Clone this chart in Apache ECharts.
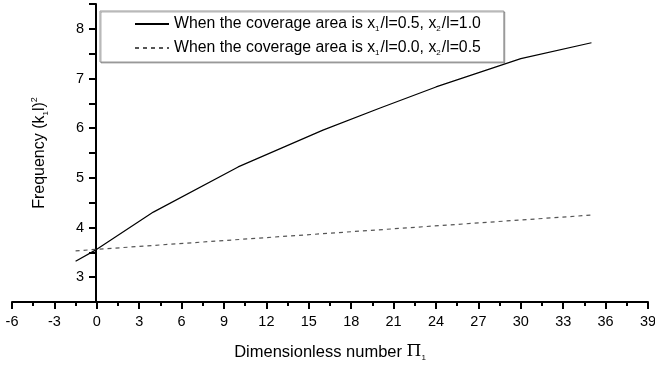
<!DOCTYPE html>
<html>
<head>
<meta charset="utf-8">
<script src="https://cdn.jsdelivr.net/npm/echarts@6/dist/echarts.min.js"></script>
<style>
html, body { margin: 0; padding: 0; background: #fff; }
#main { width: 655px; height: 367px; }
</style>
</head>
<body>
<div id="main"></div>
<script>
var xSolid = [-1.5, 0, 4, 10, 16, 20, 24, 30, 35];
var ySolid = [3.32, 3.56, 4.31, 5.22, 5.96, 6.40, 6.83, 7.40, 7.72];
var xDashed = [-1.5, 0, 35];
var yDashed = [3.53, 3.56, 4.25];
var xTicks = [-6, 39, 3];
var yTicks = [2.5, 8.5, 0.5];

function pairs(xs, ys) {
	var out = [];
	for (var i = 0; i < xs.length; i++) out.push([xs[i], ys[i]]);
	return out;
}

var font = 'Liberation Sans, Arial, sans-serif';
var rich = {
	a: { fontSize: 15.8, fontFamily: font, color: '#000', lineHeight: 18 },
	s: { fontSize: 8, fontFamily: font, color: '#000', lineHeight: 18, verticalAlign: 'bottom', padding: [0, 1, 0, 0] }
};

var myChart = echarts.init(document.getElementById('main'));
var option = {
	animation: false,
	grid: { left: 12, right: 7, top: 4, bottom: 65, containLabel: false, outerBoundsMode: 'none' },
	legend: {
		left: 100,
		top: 11,
		orient: 'vertical',
		itemWidth: 34,
		itemHeight: 10,
		itemGap: 7,
		padding: [5, 23, 5, 34],
		borderColor: '#999',
		borderWidth: 1,
		shadowColor: 'rgba(0,0,0,0.3)',
		shadowOffsetX: 1,
		shadowOffsetY: 1,
		backgroundColor: '#fff',
		itemStyle: { opacity: 0 },
		formatter: function (name) {
			if (name === 's1') return '{a|When the coverage area is x}{s|1}{a|/l=0.5, x}{s|2}{a|/l=1.0}';
			return '{a|When the coverage area is x}{s|1}{a|/l=0.0, x}{s|2}{a|/l=0.5}';
		},
		textStyle: { fontSize: 15.8, rich: rich },
		data: ['s1', 's2']
	},
	xAxis: {
		type: 'value',
		min: xTicks[0],
		max: xTicks[1],
		interval: xTicks[2],
		name: '{a|Dimensionless number }{p|Π}{s|1}',
		nameLocation: 'middle',
		nameGap: 40,
		nameTextStyle: {
			rich: {
				a: { fontSize: 16.5, fontFamily: font, color: '#000', lineHeight: 20 },
				p: { fontSize: 17, fontFamily: 'DejaVu Serif, serif', color: '#000', lineHeight: 20 },
				s: { fontSize: 8, fontFamily: font, color: '#000', lineHeight: 20, verticalAlign: 'bottom' }
			}
		},
		axisLine: { onZero: false, lineStyle: { color: '#000', width: 2 } },
		axisTick: { inside: false, length: 7, lineStyle: { color: '#000', width: 2 } },
		minorTick: { show: true, splitNumber: 2, length: 4, lineStyle: { color: '#000', width: 2 } },
		axisLabel: { color: '#000', fontSize: 14.5, fontFamily: font, margin: 12, showMinLabel: true, showMaxLabel: true },
		splitLine: { show: false }
	},
	yAxis: {
		type: 'value',
		position: 'left',
		offset: -84,
		min: yTicks[0],
		max: yTicks[1],
		interval: yTicks[2],
		name: '{a|Frequency (k}{s|1}{a|l)}{t|2}',
		nameLocation: 'middle',
		nameGap: 46,
		nameTextStyle: {
			rich: {
				a: { fontSize: 16, fontFamily: font, color: '#000', lineHeight: 20 },
				s: { fontSize: 8, fontFamily: font, color: '#000', lineHeight: 20, verticalAlign: 'bottom' },
				t: { fontSize: 9, fontFamily: font, color: '#000', lineHeight: 20, verticalAlign: 'top' }
			}
		},
		axisLine: { onZero: false, lineStyle: { color: '#000', width: 2 } },
		axisTick: { inside: false, length: 7, lineStyle: { color: '#000', width: 2 } },
		axisLabel: {
			color: '#000', fontSize: 14.5, fontFamily: font, margin: 12,
			formatter: function (v) {
				return (Math.abs(v - Math.round(v)) < 1e-6 && v >= 3 && v <= 8) ? String(Math.round(v)) : '';
			}
		},
		splitLine: { show: false }
	},
	series: [{
		name: 's1',
		type: 'line',
		symbol: 'none',
		data: pairs(xSolid, ySolid),
		lineStyle: { color: '#000', width: 1.2, type: 'solid' },
		itemStyle: { color: '#000' }
	}, {
		name: 's2',
		type: 'line',
		symbol: 'none',
		data: pairs(xDashed, yDashed),
		lineStyle: { color: '#555', width: 1.2, type: [4, 4] },
		itemStyle: { color: '#555' }
	}]
};
myChart.setOption(option);
</script>
</body>
</html>
